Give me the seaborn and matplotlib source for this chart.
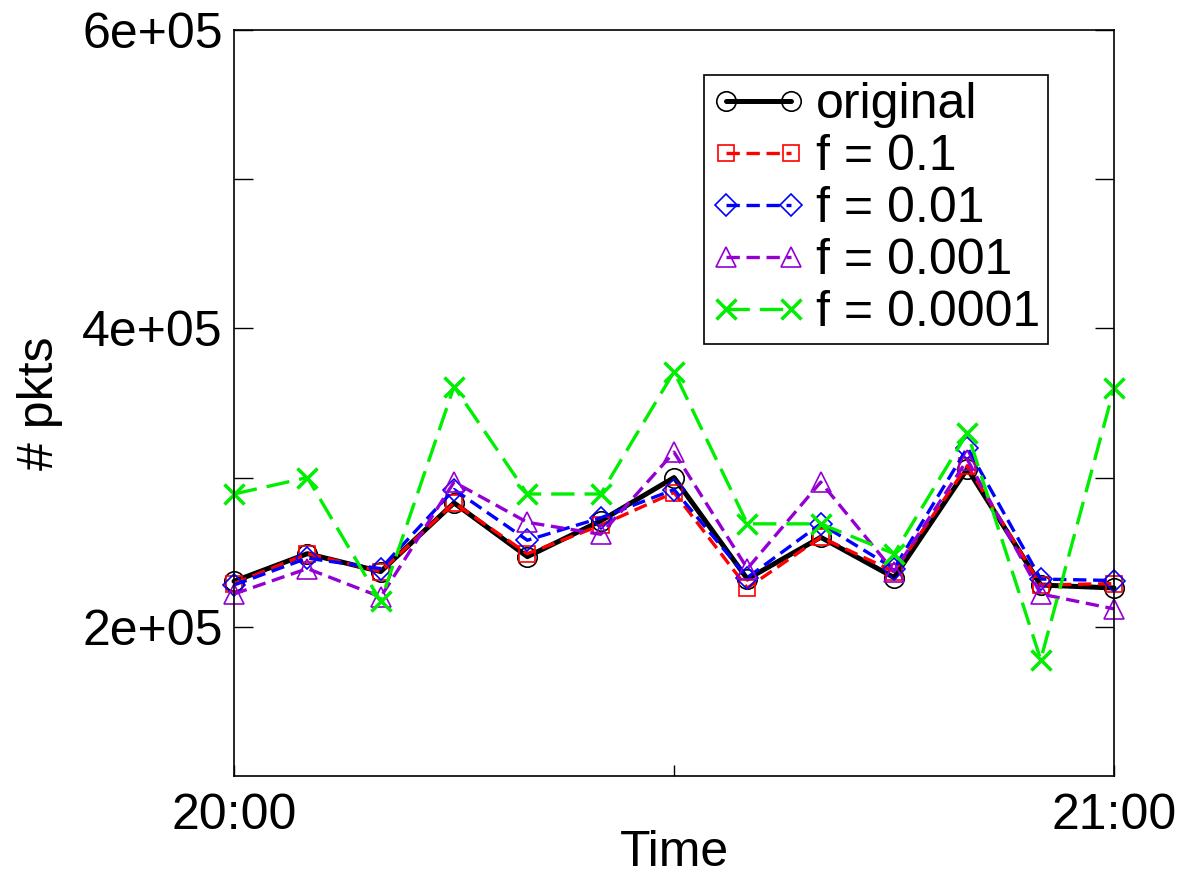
import numpy as np
import pandas as pd
import matplotlib
matplotlib.use("Agg")
import matplotlib.pyplot as plt
import seaborn as sns
from matplotlib.ticker import FixedLocator

# minutes after 20:00
minutes = [0, 5, 10, 15, 20, 25, 30, 35, 40, 45, 50, 55, 60]
xtick_pos = [0, 30, 60]
xtick_labels = ["20:00", "", "21:00"]

original = [2.305e5, 2.49e5, 2.37e5, 2.83e5, 2.47e5, 2.71e5, 3.00e5, 2.32e5, 2.60e5, 2.33e5, 3.06e5, 2.28e5, 2.26e5]
f_01 = [2.29e5, 2.49e5, 2.37e5, 2.83e5, 2.49e5, 2.68e5, 2.90e5, 2.26e5, 2.60e5, 2.37e5, 3.08e5, 2.28e5, 2.29e5]
f_001 = [2.28e5, 2.46e5, 2.39e5, 2.92e5, 2.58e5, 2.73e5, 2.92e5, 2.33e5, 2.69e5, 2.39e5, 3.20e5, 2.32e5, 2.31e5]
f_0001 = [2.22e5, 2.39e5, 2.20e5, 2.97e5, 2.70e5, 2.62e5, 3.17e5, 2.39e5, 2.97e5, 2.37e5, 3.12e5, 2.22e5, 2.12e5]
f_00001 = [2.89e5, 3.00e5, 2.17e5, 3.61e5, 2.89e5, 2.89e5, 3.71e5, 2.69e5, 2.69e5, 2.49e5, 3.30e5, 1.78e5, 3.60e5]

series = [
    ("original", original, "black", "o", "-", 3.6, None),
    ("f = 0.1", f_01, "#ff0000", "s", "--", 2.4, (4, 2)),
    ("f = 0.01", f_001, "#0000ff", "D", "--", 2.4, (4, 2)),
    ("f = 0.001", f_0001, "#9400d3", "^", "--", 2.4, (4, 2)),
    ("f = 0.0001", f_00001, "#00ee00", "x", "--", 2.4, (7, 3)),
]

sns.set_style("ticks")
plt.rcParams["font.family"] = ["Liberation Sans", "DejaVu Sans"]
plt.rcParams["text.color"] = "black"
plt.rcParams["axes.labelcolor"] = "black"
plt.rcParams["xtick.color"] = "black"
plt.rcParams["ytick.color"] = "black"

fig = plt.figure(figsize=(11.91, 8.82), dpi=100)
ax = fig.add_axes([0.1965, 0.1202, 0.7389, 0.8458])

for name, vals, col, mk, ls, lw, dash in series:
    df = pd.DataFrame({"t": minutes, "v": vals})
    msize = 14 if mk != "D" else 11
    if mk == "s":
        msize = 12
    sns.lineplot(data=df, x="t", y="v", ax=ax, color=col, linewidth=lw,
                 marker=mk, markersize=msize, markerfacecolor="none",
                 markeredgecolor=col, markeredgewidth=1.2 if mk != "x" else 2.5,
                 label=name, clip_on=False)
    line = ax.get_lines()[-1]
    if dash is not None:
        line.set_dashes(dash)

ax.set_xlim(0, 60)
ax.set_ylim(1e5, 6e5)
ax.set_xticks(xtick_pos)
ax.set_xticklabels(xtick_labels)
ax.set_yticks([2e5, 4e5, 6e5])
ax.set_yticklabels(["2e+05", "4e+05", "6e+05"])
ax.yaxis.set_minor_locator(FixedLocator([3e5, 5e5]))

ax.tick_params(axis="y", which="both", direction="in", length=14, width=1,
               left=True, right=True, labelsize=36, pad=8)
ax.tick_params(axis="x", which="both", direction="in", length=8, width=1,
               top=False, labelsize=36, pad=12)
for sp in ax.spines.values():
    sp.set_visible(True)
    sp.set_linewidth(1.2)
    sp.set_color("black")

ax.set_xlabel("Time", fontsize=36, labelpad=-6)
ax.set_ylabel("# pkts", fontsize=36, labelpad=14)

leg = ax.legend(loc="upper right", bbox_to_anchor=(0.925, 0.94), fontsize=36,
                numpoints=2, handlelength=1.9, handletextpad=0.2,
                labelspacing=0.12, borderpad=0.15, fancybox=False,
                framealpha=1, edgecolor="black", borderaxespad=0)
leg.get_frame().set_linewidth(1.2)

fig.savefig("out.png", dpi=100)
